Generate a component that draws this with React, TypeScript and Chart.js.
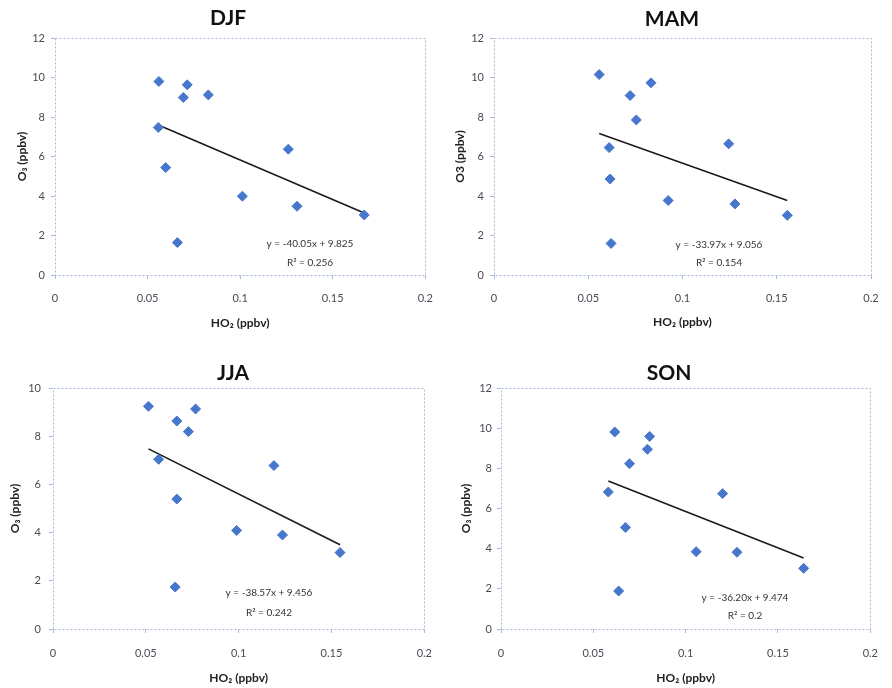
import React, { useEffect, useRef } from 'react';
import { Chart, registerables } from 'chart.js';

Chart.register(...registerables);

// ---- data ----
const panelTitles = ['DJF', 'MAM', 'JJA', 'SON'];

const djfHO2 = [0.0561, 0.0558, 0.0598, 0.0661, 0.0693, 0.0714, 0.0828, 0.1012, 0.126, 0.1307, 0.167];
const djfO3 = [9.8, 7.47, 5.44, 1.64, 8.99, 9.63, 9.12, 3.99, 6.37, 3.48, 3.04];

const mamHO2 = [0.0558, 0.0611, 0.0616, 0.0621, 0.0722, 0.0755, 0.0833, 0.0924, 0.1245, 0.1278, 0.1556];
const mamO3 = [10.15, 6.45, 4.86, 1.6, 9.09, 7.85, 9.73, 3.77, 6.64, 3.6, 3.02];

const jjaHO2 = [0.0514, 0.0569, 0.0658, 0.0667, 0.0667, 0.0729, 0.0768, 0.0989, 0.119, 0.1236, 0.1546];
const jjaO3 = [9.24, 7.04, 1.74, 8.63, 5.39, 8.19, 9.13, 4.09, 6.78, 3.9, 3.17];

const sonHO2 = [0.0581, 0.0616, 0.0637, 0.0674, 0.0696, 0.0793, 0.0805, 0.1057, 0.12, 0.1278, 0.1639];
const sonO3 = [6.82, 9.81, 1.89, 5.06, 8.23, 8.95, 9.59, 3.85, 6.74, 3.82, 3.02];

const slopes = [-40.05, -33.97, -38.57, -36.2];
const intercepts = [9.825, 9.056, 9.456, 9.474];
const rSquared = ['0.256', '0.154', '0.242', '0.2'];

const xTicksMax = 0.2;
const xStep = 0.05;
const yMaxes = [12, 12, 10, 12];
const yStep = 2;

const xTitle = 'HO\u2082 (ppbv)';
const yTitles = ['O\u2083 (ppbv)', 'O3 (ppbv)', 'O\u2083 (ppbv)', 'O\u2083 (ppbv)'];

const xSeries = [djfHO2, mamHO2, jjaHO2, sonHO2];
const ySeries = [djfO3, mamO3, jjaO3, sonO3];

// ---- layout (pixels) ----
const W = 446;
const H = 344;
const LAYOUT = [
  { left: 0, top: 0, l: 55, r: 436, t: 38, b: 275, titleX: 228, titleY: 18, yTitleX: 22, yTickPad: 6, xTickPad: 13, xTitleY: 323, eqX: 310, eqY: 244, r2Y: 263 },
  { left: 446, top: 0, l: 48, r: 425, t: 38, b: 275, titleX: 226, titleY: 19, yTitleX: 14, yTickPad: 6, xTickPad: 13, xTitleY: 322, eqX: 273, eqY: 245, r2Y: 263 },
  { left: 0, top: 344, l: 53, r: 432, t: 44, b: 285, titleX: 233, titleY: 29, yTitleX: 15, yTickPad: 8, xTickPad: 14, xTitleY: 334, eqX: 269, eqY: 249, r2Y: 269 },
  { left: 446, top: 344, l: 55, r: 433, t: 44, b: 285, titleX: 223, titleY: 29, yTitleX: 20, yTickPad: 5, xTickPad: 14, xTitleY: 334, eqX: 299, eqY: 254, r2Y: 272 },
];

const FONT = 'Lato, "Liberation Sans", sans-serif';
const MARKER = '#4677cc';
const AXIS = '#a9badb';

function Panel({ idx }: { idx: number }) {
  const ref = useRef<HTMLCanvasElement | null>(null);
  useEffect(() => {
    const canvas = ref.current;
    if (!canvas) return;
    const L = LAYOUT[idx];
    const xs = xSeries[idx];
    const ys = ySeries[idx];
    const pts = xs.map((x, i) => ({ x, y: ys[i] }));
    const xmin = Math.min(...xs);
    const xmax = Math.max(...xs);
    const m = slopes[idx];
    const c = intercepts[idx];
    const trend = [
      { x: xmin, y: m * xmin + c },
      { x: xmax, y: m * xmax + c },
    ];
    const eq = `y = ${m.toFixed(2)}x + ${c.toFixed(3)}`;
    const r2 = `R\u00B2 = ${rSquared[idx]}`;

    const decor = {
      id: 'decor' + idx,
      beforeDatasetsDraw(chart: any) {
        const { ctx, chartArea } = chart;
        ctx.save();
        ctx.strokeStyle = AXIS;
        ctx.lineWidth = 1;
        ctx.setLineDash([2, 2]);
        ctx.strokeRect(
          Math.round(chartArea.left) + 0.5,
          Math.round(chartArea.top) + 0.5,
          Math.round(chartArea.right - chartArea.left),
          Math.round(chartArea.bottom - chartArea.top)
        );
        ctx.restore();
      },
      afterDraw(chart: any) {
        const { ctx } = chart;
        ctx.save();
        ctx.fillStyle = '#111';
        ctx.font = `bold 21px ${FONT}`;
        ctx.textAlign = 'center';
        ctx.textBaseline = 'middle';
        ctx.fillText(panelTitles[idx], L.titleX, L.titleY);
        ctx.fillStyle = '#333';
        ctx.font = `10px ${FONT}`;
        ctx.fillText(eq, L.eqX, L.eqY);
        ctx.fillText(r2, L.eqX, L.r2Y);
        ctx.restore();
      },
    };

    const chart = new Chart(canvas, {
      type: 'scatter',
      data: {
        datasets: [
          {
            data: pts,
            pointStyle: 'rectRot',
            pointRadius: 5,
            pointHoverRadius: 5,
            backgroundColor: MARKER,
            borderColor: MARKER,
            borderWidth: 1,
            order: 1,
          },
          {
            type: 'line',
            data: trend,
            borderColor: '#1a1a1a',
            borderWidth: 1.6,
            pointRadius: 0,
            fill: false,
            showLine: true,
            order: 2,
          } as any,
        ],
      },
      options: {
        responsive: false,
        animation: false,
        devicePixelRatio: 1,
        layout: { padding: { left: 0, right: W - L.r, top: L.t, bottom: 0 } },
        plugins: { legend: { display: false }, title: { display: false }, tooltip: { enabled: false } },
        scales: {
          x: {
            type: 'linear',
            min: 0,
            max: xTicksMax,
            afterFit: (s: any) => { s.height = H - L.b; },
            ticks: {
              stepSize: xStep,
              padding: L.xTickPad,
              color: '#4a4a55',
              font: { family: FONT, size: 11 },
              callback: (v: any) => String(+Number(v).toFixed(2)),
            },
            grid: { display: true, drawOnChartArea: false, drawTicks: true, tickLength: 4, color: AXIS },
            border: { display: false },
            title: {
              display: true,
              text: xTitle,
              color: '#222',
              font: { family: FONT, size: 12, weight: 'bold' },
              padding: { top: 0, bottom: (L.xTitleY > 0 ? H - L.xTitleY : 0) - 7.2 },
            },
          },
          y: {
            type: 'linear',
            min: 0,
            max: yMaxes[idx],
            afterFit: (s: any) => { s.width = L.l; },
            ticks: {
              stepSize: yStep,
              padding: L.yTickPad,
              color: '#4a4a55',
              font: { family: FONT, size: 11 },
            },
            grid: { display: true, drawOnChartArea: false, drawTicks: true, tickLength: 4, color: AXIS },
            border: { display: false },
            title: {
              display: true,
              text: yTitles[idx],
              color: '#222',
              font: { family: FONT, size: 12, weight: 'bold' },
              padding: { top: L.yTitleX - 7.2, bottom: 0 },
            },
          },
        },
      },
      plugins: [decor],
    } as any);
    return () => chart.destroy();
  }, [idx]);
  const L = LAYOUT[idx];
  return (
    <canvas
      ref={ref}
      width={W}
      height={H}
      style={{ position: 'absolute', left: L.left, top: L.top, width: W, height: H }}
    />
  );
}

export default function App() {
  return (
    <div style={{ position: 'absolute', left: 0, top: 0, width: 892, height: 688, background: '#fff' }}>
      {[0, 1, 2, 3].map((i) => (
        <Panel key={i} idx={i} />
      ))}
    </div>
  );
}
